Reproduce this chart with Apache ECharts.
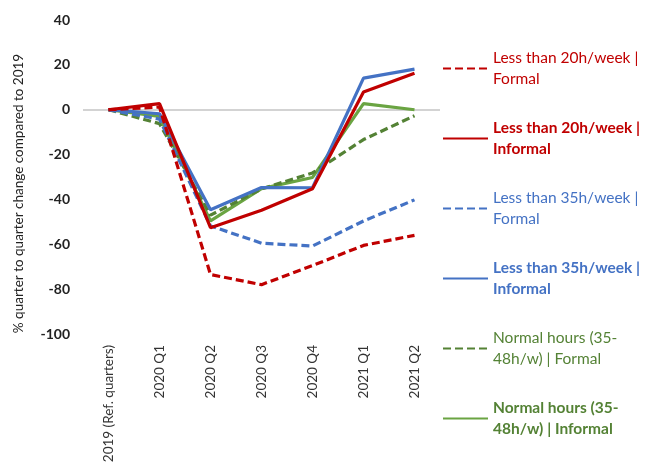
<!DOCTYPE html>
<html><head><meta charset="utf-8">
<script src="https://cdn.jsdelivr.net/npm/echarts@6/dist/echarts.min.js"></script>
<style>html,body{margin:0;padding:0;background:#fff}#c{width:652px;height:468px}</style>
</head><body><div id="c"></div>
<script>
const categories = ['2019 (Ref. quarters)', '2020 Q1', '2020 Q2', '2020 Q3', '2020 Q4', '2021 Q1', '2021 Q2'];
const lt20Formal   = [0, 1.2, -73.5, -78, -69.5, -60.5, -56];
const lt20Informal = [0, 2.7, -52.6, -44.8, -35.2, 7.9, 16.3];
const lt35Formal   = [0, -4.2, -51.8, -59.5, -60.8, -49.6, -40.2];
const lt35Informal = [0, -1.8, -44.6, -34.7, -34.8, 14.1, 18.1];
const normFormal   = [0, -6.2, -47, -35.3, -28.2, -13.3, -2.7];
const normInformal = [0, -3, -49.6, -35.2, -30.2, 2.7, 0];
const yTicks = [-100, -80, -60, -40, -20, 0, 20, 40];

const RED = '#C00000', BLUE = '#4472C4', GREEN = '#6AA442', DGREEN = '#548235';
const names = ['Less than 20h/week |\nFormal','Less than 20h/week |\nInformal','Less than 35h/week |\nFormal','Less than 35h/week |\nInformal','Normal hours (35-\n48h/w) | Formal','Normal hours (35-\n48h/w) | Informal'];
const datas = [lt20Formal, lt20Informal, lt35Formal, lt35Informal, normFormal, normInformal];
const colors = [RED, RED, BLUE, BLUE, DGREEN, GREEN];
const textColors = [RED, RED, BLUE, BLUE, DGREEN, DGREEN];
const dashed = [true, false, true, false, true, false];

const series = names.map((n, i) => ({
  name: n, type: 'line', data: datas[i], symbol: 'none', smooth: false,
  lineStyle: {color: colors[i], width: 3.2, type: dashed[i] ? [8, 4] : 'solid'},
  itemStyle: {color: colors[i]},
  z: 10 - i
}));
series[0].markLine = {
  silent: true, symbol: ['none', 'none'], label: {show: false}, animation: false,
  lineStyle: {color: '#D3D3D3', width: 2, type: 'solid'},
  data: [{yAxis: 0}]
};

const chart = echarts.init(document.getElementById('c'));
chart.setOption({
  animation: false,
  grid: {left: 83, right: 212, top: 20, bottom: 134},
  xAxis: {
    type: 'category', data: categories, boundaryGap: true,
    axisLine: {show: false, onZero: false}, axisTick: {show: false},
    axisLabel: {rotate: 90, fontSize: 13.5, color: '#333', fontFamily: 'Lato', margin: 11, interval: 0}
  },
  yAxis: {
    type: 'value', min: yTicks[0], max: yTicks[yTicks.length - 1], interval: 20,
    splitLine: {show: false},
    axisLine: {show: false}, axisTick: {show: false},
    axisLabel: {fontSize: 14, fontWeight: 'bold', color: '#222', fontFamily: 'Lato', margin: 13},
    name: '% quarter to quarter change compared to 2019', nameLocation: 'middle', nameGap: 57,
    nameTextStyle: {fontSize: 13.5, color: '#222', fontFamily: 'Lato', padding: [0, 33, 0, 0]}
  },
  legend: {
    orient: 'vertical', left: 442, top: 37, padding: 0, itemWidth: 45, itemHeight: 14, itemGap: 7,
    itemStyle: {opacity: 0},
    data: names.map((n, i) => ({
      name: n,
      textStyle: {color: textColors[i], fontWeight: i % 2 ? 'bold' : 'normal', fontSize: 15.5, fontFamily: 'Lato', lineHeight: 21, padding: [21, 0, 0, 0]}
    }))
  },
  series: series
});
</script></body></html>
